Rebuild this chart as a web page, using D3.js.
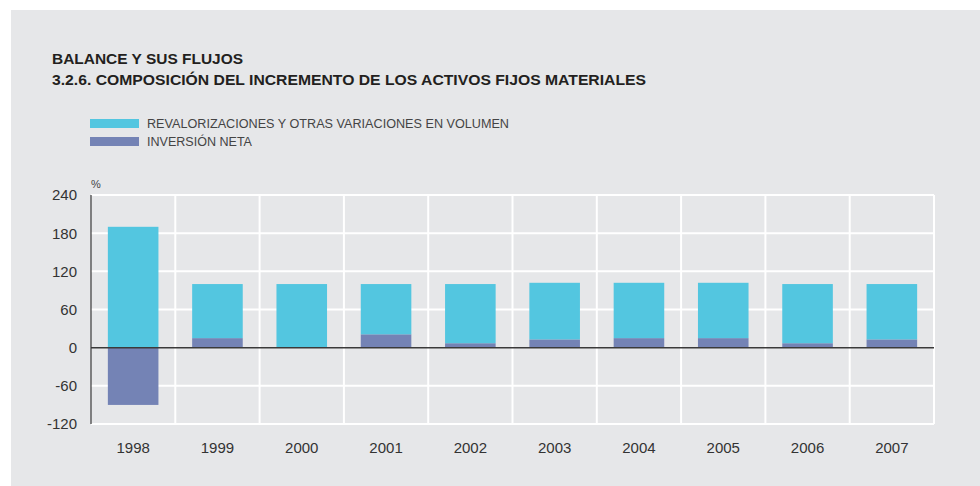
<!DOCTYPE html>
<html>
<head>
<meta charset="utf-8">
<script src="https://cdn.jsdelivr.net/npm/d3@7"></script>
<style>
  html, body { margin: 0; padding: 0; background: #ffffff; }
  svg { display: block; }
</style>
</head>
<body>
<svg id="chart" width="980" height="486"></svg>
<script>
const titleLines = ["BALANCE Y SUS FLUJOS", "3.2.6. COMPOSICIÓN DEL INCREMENTO DE LOS ACTIVOS FIJOS MATERIALES"];
const years = ["1998", "1999", "2000", "2001", "2002", "2003", "2004", "2005", "2006", "2007"];
const revalorizaciones = [190, 85, 100, 79, 93, 89, 87, 87, 93, 87];
const inversionNeta = [-90, 15, 0, 21, 7, 13, 15, 15, 7, 13];
const seriesNames = ["REVALORIZACIONES Y OTRAS VARIACIONES EN VOLUMEN", "INVERSIÓN NETA"];
const yTicks = [-120, -60, 0, 60, 120, 180, 240];
const unitLabel = "%";

const colors = { rev: "#53c6e0", inv: "#7483b5" };
const font = "'Liberation Sans', Arial, Helvetica, sans-serif";

const svg = d3.select("#chart");

// background panel
svg.append("rect").attr("x", 11).attr("y", 10).attr("width", 969).attr("height", 476).attr("fill", "#e6e7e9");

// titles
const titleWidths = [191, 594];
svg.append("g").selectAll("text").data(titleLines).join("text")
  .attr("x", 52).attr("y", (d, i) => 63.5 + i * 21)
  .attr("font-family", font).attr("font-size", 15).attr("font-weight", "bold")
  .attr("textLength", (d, i) => titleWidths[i]).attr("lengthAdjust", "spacingAndGlyphs")
  .attr("fill", "#231f20").text(d => d);

// legend
const legend = svg.append("g");
const legendColors = [colors.rev, colors.inv];
const legendWidths = [362, 105];
seriesNames.forEach((name, i) => {
  legend.append("rect").attr("x", 90).attr("y", 119 + i * 18).attr("width", 49).attr("height", 9).attr("fill", legendColors[i]);
  legend.append("text").attr("x", 147).attr("y", 128 + i * 18)
    .attr("font-family", font).attr("font-size", 12.5).attr("fill", "#444")
    .attr("textLength", legendWidths[i]).attr("lengthAdjust", "spacingAndGlyphs")
    .text(name);
});

// scales
const pLeft = 91, pRight = 934, pTop = 195, pBottom = 424;
const x = d3.scaleBand().domain(years).range([pLeft, pRight]).paddingInner(0.4).paddingOuter(0.2);
const y = d3.scaleLinear().domain([-120, 240]).range([pBottom, pTop]);

// gridlines
const grid = svg.append("g");
grid.selectAll("line.h").data(yTicks.filter(t => t !== 0)).join("line")
  .attr("x1", pLeft).attr("x2", pRight)
  .attr("y1", d => y(d)).attr("y2", d => y(d))
  .attr("stroke", "#ffffff").attr("stroke-width", 2);
const step = x.step();
grid.selectAll("line.v").data(d3.range(1, years.length + 1)).join("line")
  .attr("x1", i => pLeft + i * step).attr("x2", i => pLeft + i * step)
  .attr("y1", pTop).attr("y2", pBottom)
  .attr("stroke", "#ffffff").attr("stroke-width", 2);

// stacked data
const rows = years.map((yr, i) => ({ year: yr, inv: inversionNeta[i], rev: revalorizaciones[i] }));
const stack = d3.stack().keys(["inv", "rev"]).offset(d3.stackOffsetDiverging);
const stacked = stack(rows);

svg.append("g").selectAll("g").data(stacked).join("g")
  .attr("fill", d => colors[d.key])
  .selectAll("rect").data(d => d).join("rect")
  .attr("x", d => x(d.data.year))
  .attr("width", x.bandwidth())
  .attr("y", d => y(Math.max(d[0], d[1])))
  .attr("height", d => Math.abs(y(d[0]) - y(d[1])));

// axes lines
svg.append("line").attr("x1", pLeft).attr("x2", pRight).attr("y1", y(0)).attr("y2", y(0))
  .attr("stroke", "#3a3a3a").attr("stroke-width", 1.5);
svg.append("line").attr("x1", pLeft).attr("x2", pLeft).attr("y1", pTop).attr("y2", pBottom)
  .attr("stroke", "#3a3a3a").attr("stroke-width", 1.2);

// y tick labels
svg.append("g").selectAll("text").data(yTicks).join("text")
  .attr("x", 77).attr("y", d => y(d)).attr("dy", "0.36em")
  .attr("text-anchor", "end").attr("font-family", font).attr("font-size", 15)
  .attr("fill", "#333").text(d => d);

// unit label
svg.append("text").attr("x", 91).attr("y", 188)
  .attr("font-family", font).attr("font-size", 11).attr("fill", "#444").text(unitLabel);

// x labels
svg.append("g").selectAll("text").data(years).join("text")
  .attr("x", d => x(d) + x.bandwidth() / 2).attr("y", 453)
  .attr("text-anchor", "middle").attr("font-family", font).attr("font-size", 15)
  .attr("fill", "#333").text(d => d);
</script>
</body>
</html>
